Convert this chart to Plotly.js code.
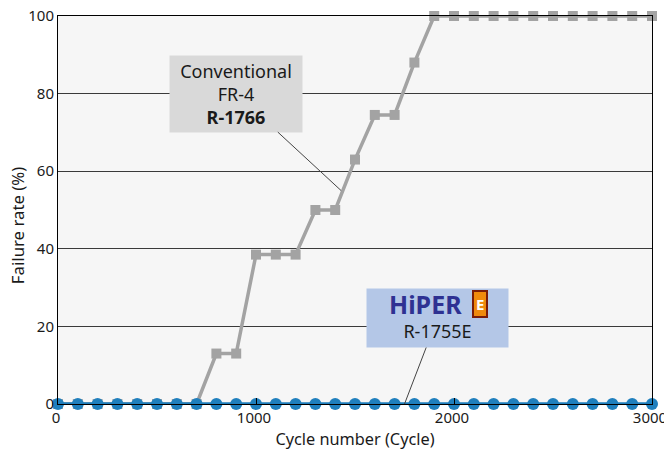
<!DOCTYPE html>
<html>
<head>
<meta charset="utf-8">
<script src="https://cdn.plot.ly/plotly-3.0.1.min.js"></script>
<style>html,body{margin:0;padding:0;background:#fff;}#chart{width:664px;height:450px;}</style>
</head>
<body>
<div id="chart"></div>
<script>
// Cycle numbers (every 100 cycles)
const cycles = [0,100,200,300,400,500,600,700,800,900,1000,1100,1200,1300,1400,1500,1600,1700,1800,1900,2000,2100,2200,2300,2400,2500,2600,2700,2800,2900,3000];
// Conventional FR-4 R-1766 failure rate (%)
const fr4Failure = [0,0,0,0,0,0,0,0,13,13,38.5,38.5,38.5,50,50,63,74.5,74.5,88,100,100,100,100,100,100,100,100,100,100,100,100];
// HIPER E R-1755E failure rate (%)
const hiperFailure = [0,0,0,0,0,0,0,0,0,0,0,0,0,0,0,0,0,0,0,0,0,0,0,0,0,0,0,0,0,0,0];
const xTicks = [0,1000,2000,3000];
const yTicks = [0,20,40,60,80,100];

const font = "Noto Sans, Open Sans, sans-serif";

const traces = [
  {x: cycles, y: fr4Failure, type: 'scatter', mode: 'lines+markers',
   line: {color: '#a3a3a3', width: 3.5},
   marker: {symbol: 'square', size: 10, color: '#a3a3a3'},
   cliponaxis: false, hoverinfo: 'none'},
  {x: cycles, y: hiperFailure, type: 'scatter', mode: 'lines+markers',
   line: {color: '#1f7fbd', width: 3.5},
   marker: {symbol: 'circle', size: 12, color: '#1f7fbd'},
   cliponaxis: false, hoverinfo: 'none'}
];

const layout = {
  width: 664, height: 450,
  margin: {l: 58, r: 12, t: 16, b: 46},
  paper_bgcolor: '#ffffff',
  plot_bgcolor: '#f6f6f6',
  showlegend: false,
  font: {family: font, size: 15, color: '#1a1a1a'},
  xaxis: {
    range: [0, 3000], tickvals: xTicks, ticktext: xTicks.map(String),
    showgrid: false, zeroline: false,
    showline: true, linecolor: '#000', linewidth: 1, mirror: true,
    ticks: 'inside', ticklen: 6, tickcolor: '#000', tickwidth: 1,
    ticklabeloverflow: 'allow', ticklabelshift: -2,
    tickfont: {family: font, size: 15, color: '#1a1a1a'},
    title: {text: 'Cycle number (Cycle)', font: {family: font, size: 16.3, color: '#1a1a1a'}, standoff: 9}
  },
  yaxis: {
    range: [0, 100], tickvals: yTicks, ticktext: yTicks.map(String),
    showgrid: true, gridcolor: '#3a3a3a', gridwidth: 1, zeroline: false,
    showline: true, linecolor: '#000', linewidth: 1, mirror: true,
    ticks: '', ticklen: 0,
    tickfont: {family: font, size: 15, color: '#1a1a1a'}
  },
  annotations: [
    {x: -0.069, y: 0.461, xref: 'paper', yref: 'paper', xanchor: 'center', yanchor: 'middle',
     showarrow: false, textangle: -90, text: 'Failure rate (%)',
     font: {family: font, size: 16.8, color: '#1a1a1a'}},
    {x: 1430, y: 55, xref: 'x', yref: 'y', ax: -105, ay: -97,
     text: 'Conventional<br>FR-4<br><b>R-1766</b>',
     showarrow: true, arrowhead: 0, arrowwidth: 1, arrowcolor: '#444',
     bgcolor: '#d9d9d9', borderpad: 0, width: 132, height: 76,
     font: {family: font, size: 18, color: '#1a1a1a'}, align: 'center'},
    {x: 1750, y: 0, xref: 'x', yref: 'y', ax: 33, ay: -86,
     text: 'R-1755E', valign: 'bottom',
     showarrow: true, arrowhead: 0, arrowwidth: 1, arrowcolor: '#444',
     bgcolor: '#b4c7e7', borderpad: 4, width: 133, height: 50,
     font: {family: font, size: 18, color: '#1a1a1a'}, align: 'center'},
    {x: 0.619, y: 0.2577, xref: 'paper', yref: 'paper', xanchor: 'center', yanchor: 'middle', showarrow: false,
     text: '<b>HiPER</b>', font: {family: font, size: 25, color: '#2e3192'}},
    {x: 0.711, y: 0.2577, xref: 'paper', yref: 'paper', xanchor: 'center', yanchor: 'middle', showarrow: false,
     text: '<b>E</b>', bgcolor: '#ef8a0c', bordercolor: '#7a1c08', borderwidth: 2, borderpad: 2,
     font: {family: font, size: 15, color: '#ffffff'}}
  ]
};

Plotly.newPlot('chart', traces, layout, {staticPlot: true, displayModeBar: false});
</script>
</body>
</html>
